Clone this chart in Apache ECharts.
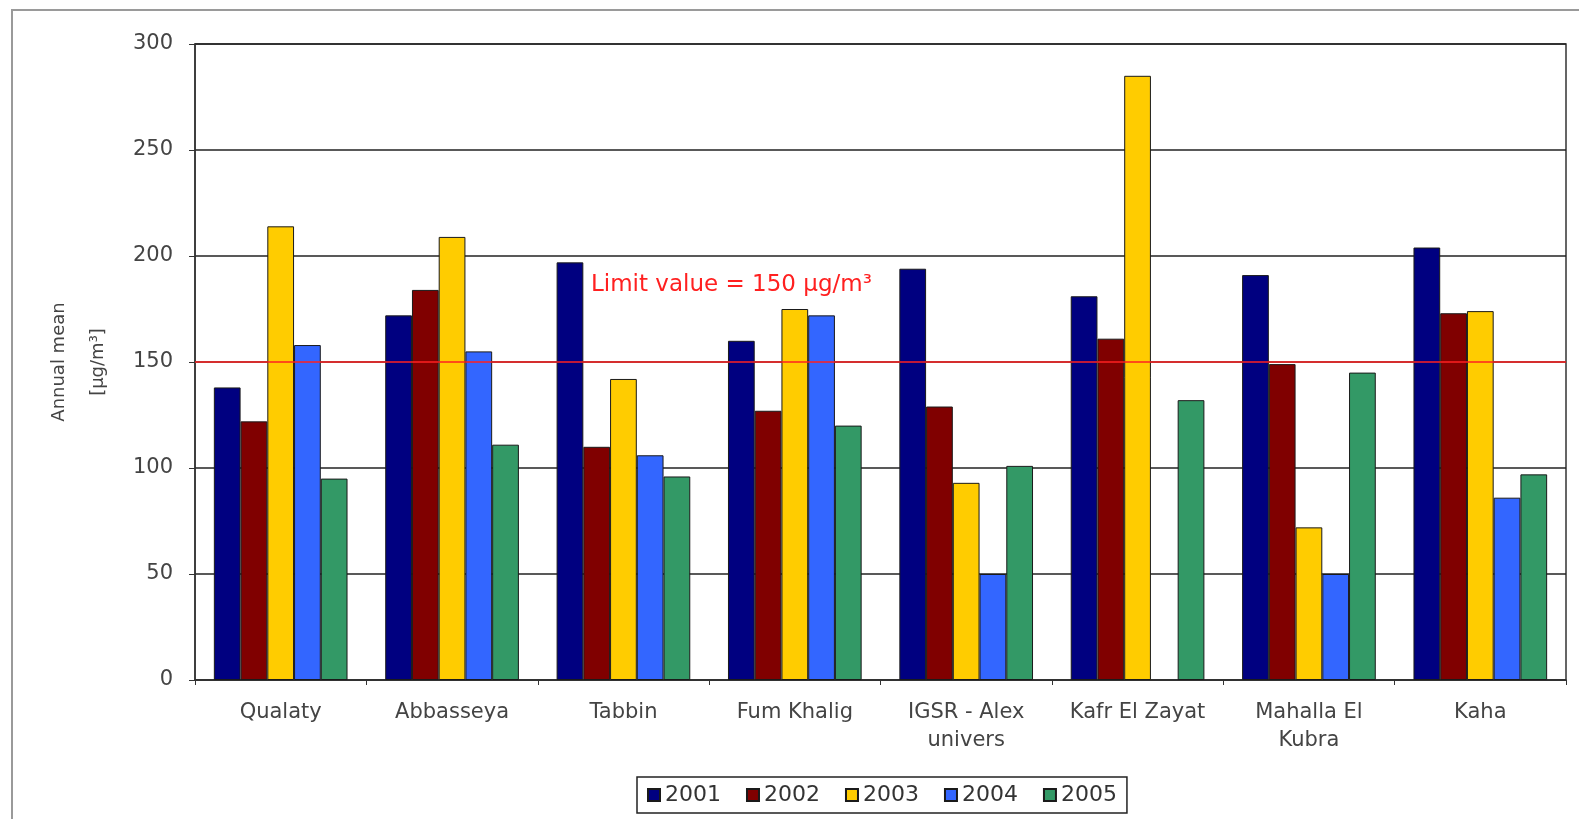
<!DOCTYPE html>
<html>
<head>
<meta charset="utf-8">
<title>Annual mean</title>
<script src="https://cdn.jsdelivr.net/npm/echarts@6/dist/echarts.min.js"></script>
<style>
  html, body { margin: 0; padding: 0; background: #fff; }
  #chart { width: 1579px; height: 819px; }
</style>
</head>
<body>
<div id="chart"></div>
<script>
// stations on the x axis
const stations = ['Qualaty', 'Abbasseya', 'Tabbin', 'Fum Khalig', 'IGSR - Alex\nunivers', 'Kafr El Zayat', 'Mahalla El\nKubra', 'Kaha']

// annual mean per year, ug/m3
const y2001 = [138, 172, 197, 160, 194, 181, 191, 204]
const y2002 = [122, 184, 110, 127, 129, 161, 149, 173]
const y2003 = [214, 209, 142, 175, 93, 285, 72, 174]
const y2004 = [158, 155, 106, 172, 50, null, 50, 86]
const y2005 = [95, 111, 96, 120, 101, 132, 145, 97]

const years = ['2001', '2002', '2003', '2004', '2005']
const colors = ['#000080', '#800000', '#FFCC00', '#3366FF', '#339966']
const limitValue = 150

const font = 'DejaVu Sans, Liberation Sans, sans-serif'
const chart = echarts.init(document.getElementById('chart'))

const series = [y2001, y2002, y2003, y2004, y2005].map((vals, i) => ({
  name: years[i],
  type: 'bar',
  data: vals,
  barGap: '0%',
  barCategoryGap: '22%',
  itemStyle: { color: colors[i], borderColor: '#1a1a1a', borderWidth: 1 }
}))

// red limit line at 150
series[0].markLine = {
  silent: true,
  symbol: 'none',
  label: { show: false },
  lineStyle: { color: '#ff2020', width: 1.5, type: 'solid' },
  data: [{ yAxis: limitValue }]
}

chart.setOption({
  backgroundColor: '#fff',
  animation: false,
  textStyle: { fontFamily: font },
  grid: {
    left: 195, right: 13, top: 44, bottom: 139,
    show: true, borderColor: '#333', borderWidth: 1.5
  },
  legend: {
    data: years,
    left: 637, top: 777,
    padding: [7, 10],
    itemWidth: 12, itemHeight: 12, itemGap: 25,
    icon: 'rect',
    borderColor: '#222', borderWidth: 1.5,
    textStyle: { fontSize: 22, color: '#333', fontFamily: font }
  },
  xAxis: {
    type: 'category',
    data: stations,
    axisLine: { lineStyle: { color: '#333', width: 1.5 } },
    axisTick: { show: true, length: 5, lineStyle: { color: '#333' } },
    axisLabel: { interval: 0, margin: 19, fontSize: 21, color: '#444', lineHeight: 28, fontFamily: font }
  },
  yAxis: {
    type: 'value',
    min: 0, max: 300, interval: 50,
    name: 'Annual mean\n[µg/m³]',
    nameLocation: 'middle',
    nameRotate: 90,
    nameGap: 77,
    nameTextStyle: { fontSize: 18, color: '#444', lineHeight: 39, fontFamily: font },
    axisLine: { show: true, lineStyle: { color: '#333', width: 1.5 } },
    axisTick: { show: true, inside: false, length: 6, lineStyle: { color: '#333' } },
    axisLabel: { margin: 22, fontSize: 21, color: '#444', fontFamily: font },
    splitLine: { lineStyle: { color: '#222', width: 1.5 } }
  },
  graphic: [
    {
      type: 'rect',
      silent: true,
      shape: { x: 12, y: 10, width: 1600, height: 900 },
      style: { fill: 'none', stroke: '#9a9a9a', lineWidth: 2 }
    },
    {
      type: 'text',
      left: 591, top: 274,
      silent: true,
      style: { text: 'Limit value = 150 µg/m³', fill: '#ff2020', font: '23px ' + font }
    }
  ],
  series: series
})
</script>
</body>
</html>
